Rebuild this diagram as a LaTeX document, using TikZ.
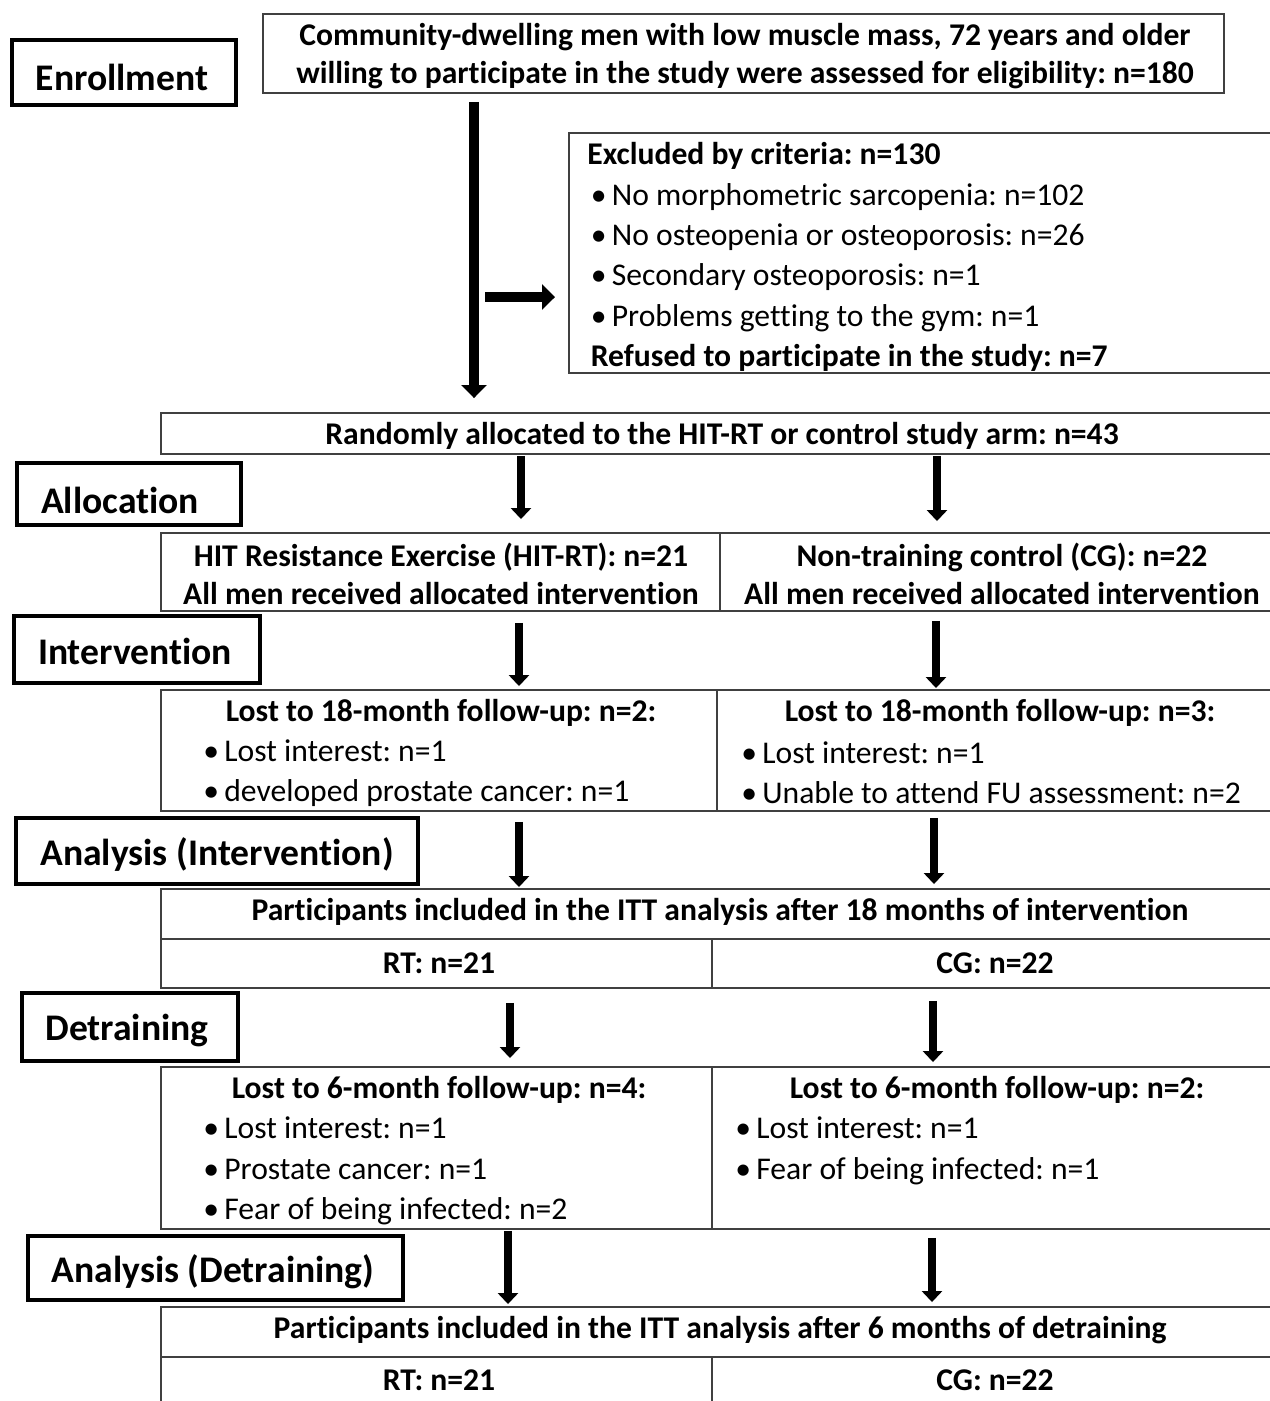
\documentclass[tikz,border=0pt]{standalone}
\usepackage{fontspec}
\setmainfont{Carlito}[Ligatures=NoCommon]
\usetikzlibrary{arrows.meta,fit}
\frenchspacing

\tikzset{
  stage/.style={draw=black, line width=2pt, inner sep=0pt},
  stagetxt/.style={inner sep=0pt, font=\fontsize{21.4}{25}\selectfont\bfseries},
  cell/.style={draw=black!75, line width=1.1pt, inner sep=0pt},
  btxt/.style={inner sep=0pt, font=\fontsize{18}{21.6}\selectfont\bfseries},
  list/.style={inner sep=0pt, align=left, font=\fontsize{18}{23}\selectfont},
  arr/.style={line width=5.1pt, -{Triangle[width=0.4cm,length=0.22cm]}},
  bigarr/.style={line width=6pt, -{Triangle[width=0.5cm,length=0.26cm]}},
}
\newcommand{\bul}{\textbullet\,}

\begin{document}
\begin{tikzpicture}[x=0.02cm, y=-0.02cm]
  \useasboundingbox (0,0) rectangle (1270,1401);
  \clip (0,0) rectangle (1270,1401);

  % stage labels on the left
  \node[stage, fit={(12,40) (236,105)}] (enrol) {};
  \node[stage, fit={(17,463) (241,525)}] (alloc) {};
  \node[stage, fit={(14,616) (260,683)}] (interv) {};
  \node[stage, fit={(16,818) (418,884)}] (anaInt) {};
  \node[stage, fit={(22,993) (238,1061)}] (detr) {};
  \node[stage, fit={(28,1236) (403,1300)}] (anaDet) {};
  \node[stagetxt] (enrolTxt) at (122,77) {Enrollment};
  \node[stagetxt] (allocTxt) at (120,500) {Allocation};
  \node[stagetxt] (intervTxt) at (135,651) {Intervention};
  \node[stagetxt] (anaIntTxt) at (217,854) {Analysis (Intervention)};
  \node[stagetxt] (detrTxt) at (127,1030) {Detraining};
  \node[stagetxt] (anaDetTxt) at (213,1272) {Analysis (Detraining)};

  % enrollment
  \node[cell, fit={(263,14) (1224,93)}] (top) {};
  \node[btxt, align=center] (topTxt) at (745,56)
    {Community-dwelling men with low muscle mass, 72 years and older\\
     willing to participate in the study were assessed for eligibility: n=180};

  \node[cell, fit={(569,133) (1290,373)}] (excl) {};
  \node[list, anchor=west] (exclTxt) at (587,257)
    {\textbf{Excluded by criteria: n=130}\\
     \hspace{2pt}\bul No morphometric sarcopenia: n=102\\
     \hspace{2pt}\bul No osteopenia or osteoporosis: n=26\\
     \hspace{2pt}\bul Secondary osteoporosis: n=1\\
     \hspace{2pt}\bul Problems getting to the gym: n=1\\
     \hspace{2pt}\textbf{Refused to participate in the study: n=7}};

  \node[cell, fit={(161,413) (1290,454)}] (rand) {};
  \node[btxt] (randTxt) at (722,436)
    {Randomly allocated to the HIT-RT or control study arm: n=43};

  % allocation
  \node[cell, fit={(161,533) (720,611)}] (hitL) {};
  \node[cell, fit={(720,533) (1290,611)}] (hitR) {};
  \node[btxt, align=center] (hitLTxt) at (441,574)
    {HIT Resistance Exercise (HIT-RT): n=21\\All men received allocated intervention};
  \node[btxt, align=center] (hitRTxt) at (1002,574)
    {Non-training control (CG): n=22\\All men received allocated intervention};

  % intervention
  \node[cell, fit={(161,690) (717,811)}] (lostL) {};
  \node[cell, fit={(717,690) (1290,811)}] (lostR) {};
  \node[btxt] (lostLTit) at (441,713) {Lost to 18-month follow-up: n=2:};
  \node[btxt] (lostRTit) at (1000,713) {Lost to 18-month follow-up: n=3:};
  \node[list, anchor=west] (lostLList) at (203,773)
    {\bul Lost interest: n=1\\ \bul developed prostate cancer: n=1};
  \node[list, anchor=west] (lostRList) at (741,773)
    {\bul Lost interest: n=1\\ \bul Unable to attend FU assessment: n=2};

  % analysis after intervention
  \node[cell, fit={(161,889) (1290,939)}] (ittA) {};
  \node[cell, fit={(161,939) (712,988)}] (rtA) {};
  \node[cell, fit={(712,939) (1290,988)}] (cgA) {};
  \node[btxt] (ittATxt) at (720,912)
    {Participants included in the ITT analysis after 18 months of intervention};
  \node[btxt] (rtATxt) at (439,963) {RT: n=21};
  \node[btxt] (cgATxt) at (995,963) {CG: n=22};

  % detraining
  \node[cell, fit={(161,1067) (712,1229)}] (detL) {};
  \node[cell, fit={(712,1067) (1290,1229)}] (detR) {};
  \node[btxt] (detLTit) at (439,1090) {Lost to 6-month follow-up: n=4:};
  \node[btxt] (detRTit) at (997,1090) {Lost to 6-month follow-up: n=2:};
  \node[list, anchor=west] (detLList) at (203,1171)
    {\bul Lost interest: n=1\\ \bul Prostate cancer: n=1\\ \bul Fear of being infected: n=2};
  \node[list, anchor=west] (detRList) at (735,1151)
    {\bul Lost interest: n=1\\ \bul Fear of being infected: n=1};

  % analysis after detraining
  \node[cell, fit={(161,1307) (1290,1357)}] (ittB) {};
  \node[cell, fit={(161,1357) (712,1420)}] (rtB) {};
  \node[cell, fit={(712,1357) (1290,1420)}] (cgB) {};
  \node[btxt] (ittBTxt) at (720,1330)
    {Participants included in the ITT analysis after 6 months of detraining};
  \node[btxt] (rtBTxt) at (439,1380) {RT: n=21};
  \node[btxt] (cgBTxt) at (995,1380) {CG: n=22};

  % arrows
  \draw[bigarr, shorten <=0.16cm, shorten >=0.28cm] (top.south -| 474,0) -- (rand.north -| 474,0);
  \coordinate (exclFrom) at (485,297);
  \draw[bigarr, shorten >=0.26cm] (exclFrom) -- (exclFrom -| excl.west);

  \draw[arr, shorten <=0.02cm, shorten >=0.26cm] (rand.south -| 521,0) -- (hitL.north -| 521,0);
  \draw[arr, shorten <=0.02cm, shorten >=0.22cm] (rand.south -| 937,0) -- (hitR.north -| 937,0);
  \draw[arr, shorten <=0.22cm, shorten >=0.06cm] (hitL.south -| 519,0) -- (lostL.north -| 519,0);
  \draw[arr, shorten <=0.18cm, shorten >=0.02cm] (hitR.south -| 936,0) -- (lostR.north -| 936,0);
  \draw[arr, shorten <=0.2cm, shorten >=0.02cm] (lostL.south -| 519,0) -- (ittA.north -| 519,0);
  \draw[arr, shorten <=0.12cm, shorten >=0.08cm] (lostR.south -| 934,0) -- (ittA.north -| 934,0);
  \draw[arr, shorten <=0.28cm, shorten >=0.16cm] (rtA.south -| 510,0) -- (detL.north -| 510,0);
  \draw[arr, shorten <=0.24cm, shorten >=0.08cm] (cgA.south -| 933,0) -- (detR.north -| 933,0);
  \draw[arr, shorten <=0.02cm, shorten >=0.04cm] (detL.south -| 508,0) -- (ittB.north -| 508,0);
  \draw[arr, shorten <=0.16cm, shorten >=0.08cm] (detR.south -| 932,0) -- (ittB.north -| 932,0);
\end{tikzpicture}
\end{document}
